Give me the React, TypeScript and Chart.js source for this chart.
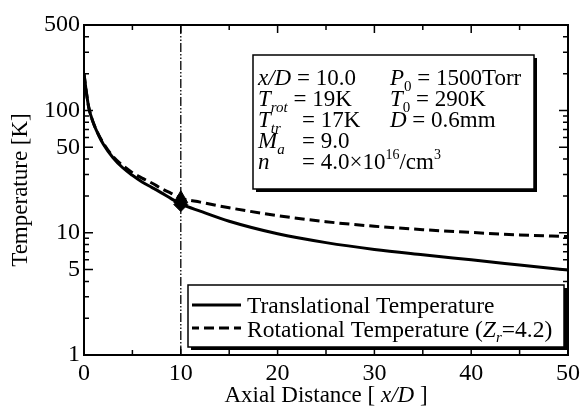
import React, { useEffect, useRef } from "react";
import { Chart, registerables } from "chart.js";
Chart.register(...registerables);

const xPositions = [0, 0.25, 0.5, 1, 1.5, 2, 3, 4, 5, 6, 7, 8, 9, 10, 12, 15, 20, 25, 30, 35, 40, 45, 50];
const translational = [200, 140, 105, 78, 63, 53, 41, 34, 29.5, 26, 23.5, 21.2, 19, 17.2, 15.0, 12.4, 9.8, 8.3, 7.3, 6.6, 6.0, 5.45, 4.95];
const rotational = [200, 140, 105, 78, 63.5, 54, 42, 35.5, 31, 28, 25.5, 23, 21, 19.2, 17.8, 16.0, 13.8, 12.3, 11.3, 10.6, 10.05, 9.6, 9.3];
const markerX = [10, 10];
const markerY = [19, 17];
const markerStyles = ["triangle", "rectRot"];
const yTickValues = [1, 5, 10, 50, 100, 500];
const yMinorValues = [2, 3, 4, 6, 7, 8, 9, 20, 30, 40, 60, 70, 80, 90, 200, 300, 400];
const xMajorValues = [0, 10, 20, 30, 40, 50];
const xMinorValues = [5, 15, 25, 35, 45];
const refLineX = 10;

const SERIF = '"Liberation Serif", "Times New Roman", serif';

type Run = { t: string; it?: boolean; size?: number; dy?: number };

function runsWidth(ctx: CanvasRenderingContext2D, runs: Run[], base: number) {
  let w = 0;
  for (const r of runs) {
    ctx.font = `${r.it ? "italic " : ""}${r.size ?? base}px ${SERIF}`;
    w += ctx.measureText(r.t).width;
  }
  return w;
}

function drawRuns(ctx: CanvasRenderingContext2D, x: number, y: number, runs: Run[], base: number) {
  let cx = x;
  ctx.textBaseline = "alphabetic";
  ctx.textAlign = "left";
  for (const r of runs) {
    ctx.font = `${r.it ? "italic " : ""}${r.size ?? base}px ${SERIF}`;
    ctx.fillText(r.t, cx, y + (r.dy ?? 0));
    cx += ctx.measureText(r.t).width;
  }
  return cx;
}

function shadowBox(ctx: CanvasRenderingContext2D, x: number, y: number, w: number, h: number) {
  ctx.fillStyle = "#000";
  ctx.fillRect(x + 3, y + 3, w, h);
  ctx.fillStyle = "#fff";
  ctx.fillRect(x, y, w, h);
  ctx.strokeStyle = "#000";
  ctx.lineWidth = 1.5;
  ctx.strokeRect(x, y, w, h);
}

const decorPlugin = {
  id: "decor",
  beforeDatasetsDraw(chart: any) {
    const { ctx, chartArea: a, scales } = chart;
    const px = scales.x.getPixelForValue(refLineX);
    ctx.save();
    ctx.strokeStyle = "#000";
    ctx.lineWidth = 1.3;
    ctx.setLineDash([9, 2, 1.5, 2, 1.5, 2]);
    ctx.beginPath();
    ctx.moveTo(px, a.top);
    ctx.lineTo(px, a.bottom);
    ctx.stroke();
    ctx.restore();
  },
  afterDatasetsDraw(chart: any) {
    const { ctx, chartArea: a, scales } = chart;
    const xs = scales.x;
    const ys = scales.y;
    ctx.save();
    ctx.strokeStyle = "#000";
    ctx.lineWidth = 2;
    ctx.setLineDash([]);
    ctx.strokeRect(a.left, a.top, a.right - a.left, a.bottom - a.top);
    ctx.lineWidth = 1.5;
    const tickY = (v: number, len: number) => {
      const p = ys.getPixelForValue(v);
      ctx.beginPath();
      ctx.moveTo(a.left, p);
      ctx.lineTo(a.left + len, p);
      ctx.moveTo(a.right, p);
      ctx.lineTo(a.right - len, p);
      ctx.stroke();
    };
    const tickX = (v: number, len: number) => {
      const p = xs.getPixelForValue(v);
      ctx.beginPath();
      ctx.moveTo(p, a.bottom);
      ctx.lineTo(p, a.bottom - len);
      ctx.moveTo(p, a.top);
      ctx.lineTo(p, a.top + len);
      ctx.stroke();
    };
    yTickValues.forEach((v) => tickY(v, 9));
    yMinorValues.forEach((v) => tickY(v, 5));
    xMajorValues.forEach((v) => tickX(v, 8));
    xMinorValues.forEach((v) => tickX(v, 5));

    // info box
    shadowBox(ctx, 253, 55, 281, 134);
    ctx.fillStyle = "#000";
    const F = 23;
    const sub = (t: string, it = true): Run => ({ t, it, size: 15, dy: 6 });
    const sup = (t: string): Run => ({ t, size: 14, dy: -10 });
    const c1 = 258;
    const eqX = 302;
    const c2 = 390;
    const rows = [85, 106, 127, 148, 169];
    drawRuns(ctx, c1, rows[0], [{ t: "x/D", it: true }, { t: " = 10.0" }], F);
    drawRuns(ctx, c1, rows[1], [{ t: "T", it: true }, sub("rot"), { t: " = 19K" }], F);
    drawRuns(ctx, c1, rows[2], [{ t: "T", it: true }, sub("tr")], F);
    drawRuns(ctx, eqX, rows[2], [{ t: "= 17K" }], F);
    drawRuns(ctx, c1, rows[3], [{ t: "M", it: true }, sub("a")], F);
    drawRuns(ctx, eqX, rows[3], [{ t: "= 9.0" }], F);
    drawRuns(ctx, c1, rows[4], [{ t: "n", it: true }], F);
    drawRuns(ctx, eqX, rows[4], [{ t: "= 4.0×10" }, sup("16"), { t: "/cm" }, sup("3")], F);
    drawRuns(ctx, c2, rows[0], [{ t: "P", it: true }, sub("0", false), { t: " = 1500Torr" }], F);
    drawRuns(ctx, c2, rows[1], [{ t: "T", it: true }, sub("0", false), { t: " = 290K" }], F);
    drawRuns(ctx, c2, rows[2], [{ t: "D", it: true }, { t: " = 0.6mm" }], F);

    // legend box
    shadowBox(ctx, 188, 285, 376, 62);
    ctx.strokeStyle = "#000";
    ctx.lineWidth = 3;
    ctx.setLineDash([]);
    ctx.beginPath();
    ctx.moveTo(192, 305);
    ctx.lineTo(241, 305);
    ctx.stroke();
    ctx.setLineDash([10, 5]);
    ctx.lineDashOffset = 3;
    ctx.beginPath();
    ctx.moveTo(192, 328);
    ctx.lineTo(241, 328);
    ctx.stroke();
    ctx.setLineDash([]);
    ctx.lineDashOffset = 0;
    ctx.fillStyle = "#000";
    const LF = 23.5;
    drawRuns(ctx, 247, 313, [{ t: "Translational Temperature" }], LF);
    drawRuns(
      ctx,
      247,
      337,
      [
        { t: "Rotational Temperature (" },
        { t: "Z", it: true },
        { t: "r", it: true, size: 15, dy: 5 },
        { t: "=4.2)" },
      ],
      LF
    );

    // x axis title
    const xt: Run[] = [{ t: "Axial Distance [ " }, { t: "x/D", it: true }, { t: " ]" }];
    const tw = runsWidth(ctx, xt, 23);
    drawRuns(ctx, (a.left + a.right) / 2 - tw / 2, 402, xt, 23);
    ctx.restore();
  },
};

export default function App() {
  const ref = useRef<HTMLCanvasElement | null>(null);
  useEffect(() => {
    if (!ref.current) return;
    const chart = new Chart(ref.current, {
      type: "line",
      data: {
        datasets: [
          {
            label: "Translational Temperature",
            data: xPositions.map((x, i) => ({ x, y: translational[i] })),
            borderColor: "#000",
            borderWidth: 3,
            pointRadius: 0,
            cubicInterpolationMode: "monotone",
            fill: false,
          },
          {
            label: "Rotational Temperature (Zr=4.2)",
            data: xPositions.map((x, i) => ({ x, y: rotational[i] })),
            borderColor: "#000",
            borderWidth: 3,
            borderDash: [10, 5],
            pointRadius: 0,
            cubicInterpolationMode: "monotone",
            fill: false,
          },
          {
            label: "x/D = 10",
            data: markerX.map((x, i) => ({ x, y: markerY[i] })),
            showLine: false,
            pointStyle: markerStyles as any,
            pointRadius: [8, 7],
            backgroundColor: "#000",
            borderColor: "#000",
          },
        ],
      },
      options: {
        animation: false,
        responsive: false,
        layout: { padding: { top: 25, right: 15, left: 0, bottom: 0 } },
        plugins: { legend: { display: false }, tooltip: { enabled: false } },
        scales: {
          x: {
            type: "linear",
            min: 0,
            max: 50,
            grid: { display: false, drawTicks: false },
            border: { display: false },
            ticks: {
              stepSize: 10,
              color: "#000",
              padding: 4,
              maxRotation: 0,
              font: { family: SERIF, size: 24 },
            },
            afterFit: (s: any) => {
              s.height = 59;
            },
          },
          y: {
            type: "logarithmic",
            min: 1,
            max: 500,
            grid: { display: false, drawTicks: false },
            border: { display: false },
            afterBuildTicks: (s: any) => {
              s.ticks = yTickValues.map((v) => ({ value: v }));
            },
            ticks: {
              color: "#000",
              padding: 4,
              font: { family: SERIF, size: 24 },
              callback: (v: any) => String(v),
            },
            title: {
              display: true,
              text: "Temperature [K]",
              color: "#000",
              padding: { top: 7, bottom: 0 },
              font: { family: SERIF, size: 23 },
            },
            afterFit: (s: any) => {
              s.width = 84;
            },
          },
        },
      },
      plugins: [decorPlugin],
    });
    return () => chart.destroy();
  }, []);
  return (
    <div style={{ position: "absolute", left: 0, top: 0, width: 584, height: 414, background: "#fff" }}>
      <canvas ref={ref} width={584} height={414} style={{ display: "block" }} />
    </div>
  );
}
